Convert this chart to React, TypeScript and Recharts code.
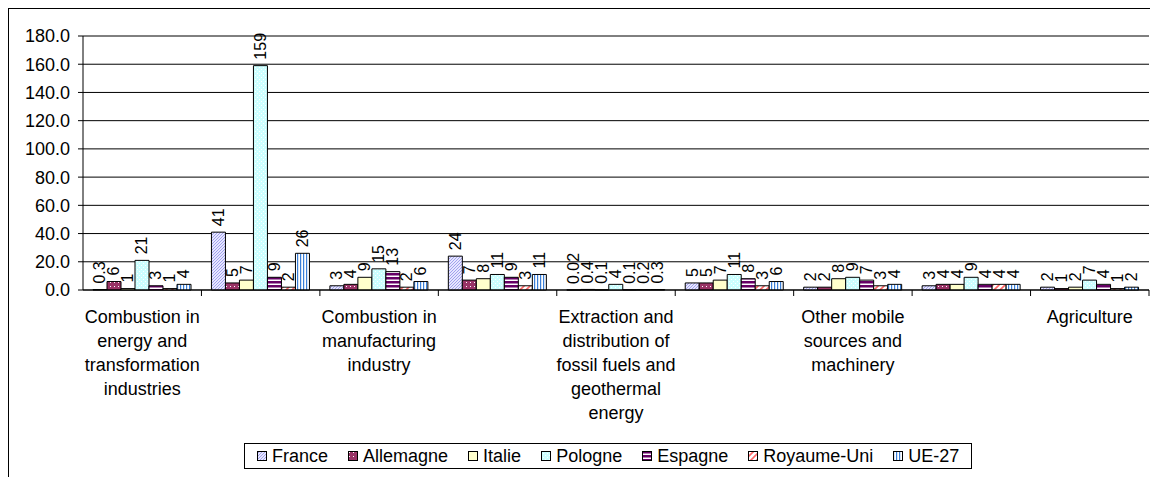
import React from 'react';
import { BarChart, Bar, XAxis, YAxis, CartesianGrid, Legend, LabelList, Text } from 'recharts';

const FONT = '"Liberation Sans", Arial, Helvetica, sans-serif';

const categories = [
  'Combustion in energy and transformation industries',
  'Non-industrial combustion plants',
  'Combustion in manufacturing industry',
  'Production processes',
  'Extraction and distribution of fossil fuels and geothermal energy',
  'Road transport',
  'Other mobile sources and machinery',
  'Waste treatment and disposal',
  'Agriculture',
];

const france = [0.3, 41, 3, 24, 0.02, 5, 2, 3, 2];
const allemagne = [6, 5, 4, 7, 0.4, 5, 2, 4, 1];
const italie = [1, 7, 9, 8, 0.1, 7, 8, 4, 2];
const pologne = [21, 159, 15, 11, 4, 11, 9, 9, 7];
const espagne = [3, 9, 13, 9, 0.1, 8, 7, 4, 4];
const royaumeUni = [1, 2, 2, 3, 0.2, 3, 3, 4, 1];
const ue27 = [4, 26, 6, 11, 0.3, 6, 4, 4, 2];

const yTicks = [0, 20, 40, 60, 80, 100, 120, 140, 160, 180];

const series = [
  { key: 'france', name: 'France', values: france, pattern: 'pat-france' },
  { key: 'allemagne', name: 'Allemagne', values: allemagne, pattern: 'pat-allemagne' },
  { key: 'italie', name: 'Italie', values: italie, pattern: 'pat-italie' },
  { key: 'pologne', name: 'Pologne', values: pologne, pattern: 'pat-pologne' },
  { key: 'espagne', name: 'Espagne', values: espagne, pattern: 'pat-espagne' },
  { key: 'royaumeUni', name: 'Royaume-Uni', values: royaumeUni, pattern: 'pat-ru' },
  { key: 'ue27', name: 'UE-27', values: ue27, pattern: 'pat-ue' },
];

const data = categories.map((name, i) => {
  const row: any = { name };
  series.forEach((s) => { row[s.key] = s.values[i]; });
  return row;
});

function Patterns() {
  return (
    <defs>
      <pattern id="pat-france" width="3" height="3" patternUnits="userSpaceOnUse">
        <rect width="3" height="3" fill="#e6e6ff" />
        <path d="M-1,1 l2,-2 M0,3 l3,-3 M2,4 l2,-2" stroke="#8f8fe8" strokeWidth="0.8" />
      </pattern>
      <pattern id="pat-allemagne" width="4" height="4" patternUnits="userSpaceOnUse">
        <rect width="4" height="4" fill="#993366" />
        <rect x="1" y="1" width="1" height="1" fill="#ffffff" />
      </pattern>
      <pattern id="pat-italie" width="4" height="4" patternUnits="userSpaceOnUse">
        <rect width="4" height="4" fill="#ffffcc" />
      </pattern>
      <pattern id="pat-pologne" width="4" height="4" patternUnits="userSpaceOnUse">
        <rect width="4" height="4" fill="#ccffff" />
        <rect x="0" y="0" width="1" height="1" fill="#ffffff" />
        <rect x="2" y="2" width="1" height="1" fill="#ffffff" />
      </pattern>
      <pattern id="pat-espagne" width="4" height="4" patternUnits="userSpaceOnUse">
        <rect width="4" height="4" fill="#ffffff" />
        <rect y="0" width="4" height="2.5" fill="#660066" />
      </pattern>
      <pattern id="pat-ru" width="6" height="6" patternUnits="userSpaceOnUse">
        <rect width="6" height="6" fill="#ffffff" />
        <path d="M-1,1 l2,-2 M0,6 l6,-6 M5,7 l2,-2" stroke="#ff6666" strokeWidth="1.6" />
      </pattern>
      <pattern id="pat-ue" width="3" height="3" patternUnits="userSpaceOnUse">
        <rect width="3" height="3" fill="#ffffff" />
        <rect x="0" width="1.2" height="3" fill="#3a7fd8" />
      </pattern>
    </defs>
  );
}

const ValueLabel = (props: any) => {
  const x = Number(props.x);
  const y = Number(props.y);
  const w = Number(props.width);
  const cx = x + w / 2;
  const ty = y - 6;
  return (
    <text
      x={cx}
      y={ty}
      transform={`rotate(-90 ${cx} ${ty})`}
      textAnchor="start"
      dominantBaseline="central"
      fontSize={16}
      fontFamily={FONT}
      fill="#000"
    >
      {props.value}
    </text>
  );
};

const CategoryTick = (props: any) => {
  const { x, y, payload, index, width, visibleTicksCount } = props;
  const half = payload && payload.offset ? payload.offset : width / visibleTicksCount / 2;
  return (
    <g>
      <line x1={x + half} y1={y} x2={x + half} y2={y + 6} stroke="#000" />
      {index % 2 === 0 && (
        <Text
          x={x}
          y={y + 20}
          width={124}
          textAnchor="middle"
          verticalAnchor="start"
          lineHeight={24}
          fontSize={18}
          fontFamily={FONT}
          style={{ fontSize: 18, fontFamily: FONT }}
          fill="#000"
        >
          {payload.value}
        </Text>
      )}
    </g>
  );
};

function LegendBox() {
  return (
    <div
      style={{
        display: 'flex',
        alignItems: 'center',
        border: '1px solid #000',
        height: 26,
        padding: '0 12px',
        background: '#fff',
        fontFamily: FONT,
        fontSize: 18,
        color: '#000',
        whiteSpace: 'nowrap',
        boxSizing: 'border-box',
      }}
    >
      {series.map((s, i) => (
        <div key={s.key} style={{ display: 'flex', alignItems: 'center', marginLeft: i === 0 ? 0 : 20 }}>
          <svg width={10} height={10} style={{ marginRight: 5 }}>
            <rect x={0.5} y={0.5} width={9} height={9} fill={`url(#${s.pattern})`} stroke="#000" />
          </svg>
          <span>{s.name}</span>
        </div>
      ))}
    </div>
  );
}

export default function App() {
  return (
    <div
      style={{
        width: 1150,
        height: 469,
        boxSizing: 'border-box',
        borderLeft: '1px solid #000',
        borderTop: '1px solid #000',
        background: '#fff',
        overflow: 'hidden',
      }}
    >
      <BarChart
        width={1149}
        height={468}
        data={data}
        margin={{ top: 27, right: 9, left: 0, bottom: 157 }}
        barCategoryGap={10}
        barGap={0}
      >
        <Patterns />
        <CartesianGrid vertical={false} stroke="#000" />
        <XAxis
          dataKey="name"
          interval={0}
          tickLine={false}
          tickSize={0}
          tickMargin={0}
          height={30}
          axisLine={{ stroke: '#000' }}
          tick={<CategoryTick />}
        />
        <YAxis
          width={74}
          domain={[0, 180]}
          ticks={yTicks}
          tickFormatter={(v: number) => v.toFixed(1)}
          tickSize={5}
          tickMargin={8}
          axisLine={{ stroke: '#000' }}
          tickLine={{ stroke: '#000' }}
          tick={{ fontSize: 18, fontFamily: FONT, fill: '#000' }}
        />
        <YAxis
          yAxisId="right"
          orientation="right"
          width={0}
          domain={[0, 180]}
          tick={false}
          tickLine={false}
          axisLine={{ stroke: '#808080' }}
        />
        <Legend
          layout="vertical"
          verticalAlign="middle"
          align="center"
          wrapperStyle={{ position: 'absolute', left: 235, top: 434, width: 'auto', height: 'auto' }}
          content={() => <LegendBox />}
        />
        {series.map((s) => (
          <Bar
            key={s.key}
            dataKey={s.key}
            name={s.name}
            fill={`url(#${s.pattern})`}
            stroke="#000"
            strokeWidth={1}
            isAnimationActive={false}
          >
            <LabelList dataKey={s.key} content={<ValueLabel />} />
          </Bar>
        ))}
      </BarChart>
    </div>
  );
}
